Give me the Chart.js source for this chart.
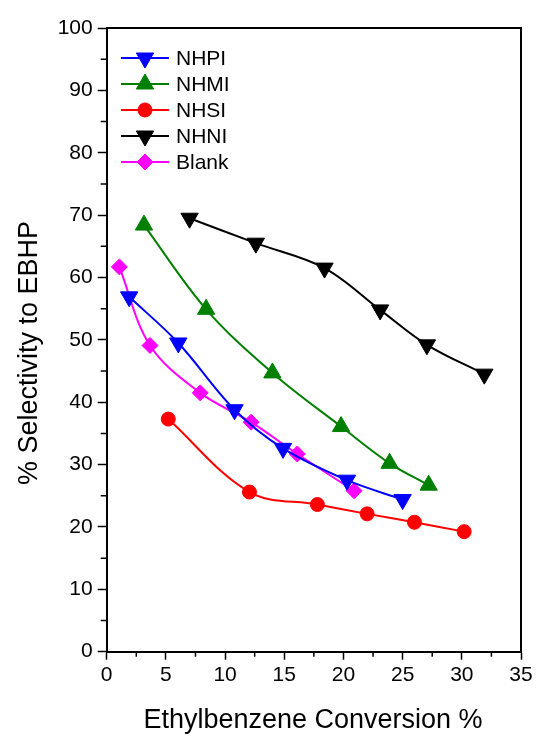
<!DOCTYPE html>
<html>
<head>
<meta charset="utf-8">
<script src="https://cdn.jsdelivr.net/npm/chart.js@4.4.1/dist/chart.umd.min.js"></script>
<style>
  html, body { margin: 0; padding: 0; background: #fff; }
  #wrap { width: 539px; height: 736px; }
</style>
</head>
<body>
<div id="wrap"><canvas id="chart"></canvas></div>
<script>
const seriesNames = ['NHPI', 'NHMI', 'NHSI', 'NHNI', 'Blank'];

const nhpiX = [1.9, 6.05, 10.8, 14.9, 20.3, 25.0];
const nhpiY = [56.9, 49.5, 38.8, 32.6, 27.5, 24.4];
const nhmiX = [3.15, 8.4, 14.0, 19.8, 23.9, 27.2];
const nhmiY = [68.4, 54.9, 44.7, 36.1, 30.2, 26.7];
const nhsiX = [5.2, 12.06, 17.8, 22.0, 26.0, 30.2];
const nhsiY = [37.3, 25.6, 23.6, 22.1, 20.75, 19.25];
const nhniX = [7.0, 12.6, 18.4, 23.1, 27.05, 31.9];
const nhniY = [69.5, 65.5, 61.5, 54.8, 49.2, 44.5];
const blankX = [1.07, 3.66, 7.9, 12.2, 16.1, 20.9];
const blankY = [61.7, 49.1, 41.5, 36.8, 31.7, 25.8];

const xTitle = 'Ethylbenzene Conversion %';
const yTitle = '% Selectivity to EBHP';

const FONT = '"Liberation Sans", Arial, sans-serif';

function pts(xs, ys) {
  return xs.map((x, i) => ({ x, y: ys[i] }));
}

function series(label, xs, ys, color, style, radius, rotation) {
  return {
    label,
    data: pts(xs, ys),
    borderColor: color,
    backgroundColor: color,
    pointBackgroundColor: color,
    pointBorderColor: color,
    borderWidth: 2,
    pointStyle: style,
    pointRadius: radius,
    pointHoverRadius: radius,
    pointRotation: rotation,
    pointBorderWidth: 1,
    tension: 0.35,
    fill: false,
  };
}

const frameAndExtras = {
  id: 'frameAndExtras',
  afterDraw(chart) {
    const { ctx, chartArea: a, scales } = chart;
    ctx.save();
    // top and right frame
    ctx.strokeStyle = '#000';
    ctx.lineWidth = 2;
    ctx.beginPath();
    ctx.moveTo(a.left, a.top);
    ctx.lineTo(a.right, a.top);
    ctx.lineTo(a.right, a.bottom);
    ctx.stroke();

    // minor ticks
    ctx.lineWidth = 1.5;
    ctx.beginPath();
    for (let v = 2.5; v < 35; v += 5) {
      const px = scales.x.getPixelForValue(v);
      ctx.moveTo(px, a.bottom);
      ctx.lineTo(px, a.bottom + 5);
    }
    for (let v = 5; v < 100; v += 10) {
      const py = scales.y.getPixelForValue(v);
      ctx.moveTo(a.left, py);
      ctx.lineTo(a.left - 6, py);
    }
    ctx.stroke();

    // axis titles
    ctx.fillStyle = '#000';
    ctx.font = '27px ' + FONT;
    ctx.textAlign = 'center';
    ctx.textBaseline = 'alphabetic';
    ctx.fillText(xTitle, 313, 727.5);
    ctx.save();
    ctx.translate(36.5, 353);
    ctx.rotate(-Math.PI / 2);
    ctx.fillText(yTitle, 0, 0);
    ctx.restore();

    // legend
    ctx.font = '21px ' + FONT;
    ctx.textAlign = 'left';
    ctx.textBaseline = 'middle';
    chart.data.datasets.forEach((ds, i) => {
      const y = 58 + i * 26;
      ctx.strokeStyle = ds.borderColor;
      ctx.lineWidth = 2;
      ctx.beginPath();
      ctx.moveTo(121, y);
      ctx.lineTo(169, y);
      ctx.stroke();
      ctx.fillStyle = ds.pointBackgroundColor;
      ctx.strokeStyle = ds.pointBorderColor;
      ctx.lineWidth = 1;
      Chart.helpers.drawPoint(ctx, {
        pointStyle: ds.pointStyle,
        radius: ds.pointRadius,
        rotation: ds.pointRotation,
        borderWidth: 1,
      }, 145, y);
      ctx.fillStyle = '#000';
      ctx.fillText(ds.label, 176, y + 1);
    });
    ctx.restore();
  },
};

new Chart(document.getElementById('chart'), {
  type: 'line',
  data: {
    datasets: [
      series(seriesNames[0], nhpiX, nhpiY, '#0000ff', 'triangle', 10, 180),
      series(seriesNames[1], nhmiX, nhmiY, '#008000', 'triangle', 10, 0),
      series(seriesNames[2], nhsiX, nhsiY, '#ff0000', 'circle', 7, 0),
      series(seriesNames[3], nhniX, nhniY, '#000000', 'triangle', 10, 180),
      series(seriesNames[4], blankX, blankY, '#ff00ff', 'rectRot', 8, 0),
    ],
  },
  options: {
    responsive: true,
    maintainAspectRatio: false,
    animation: false,
    layout: { padding: { top: 28, right: 18, left: 0, bottom: 0 } },
    plugins: { legend: { display: false }, tooltip: { enabled: false } },
    scales: {
      x: {
        type: 'linear',
        min: 0,
        max: 35,
        afterFit(scale) { scale.height = 84.3; },
        ticks: {
          stepSize: 5,
          color: '#000',
          padding: 3,
          font: { family: FONT, size: 21 },
        },
        grid: {
          display: true,
          drawOnChartArea: false,
          drawTicks: true,
          tickLength: 8,
          tickColor: '#000',
          tickWidth: 1.5,
        },
        border: { display: true, color: '#000', width: 2 },
      },
      y: {
        type: 'linear',
        min: 0,
        max: 100,
        afterFit(scale) { scale.width = 106.7; },
        ticks: {
          stepSize: 10,
          color: '#000',
          padding: 5,
          font: { family: FONT, size: 21 },
        },
        grid: {
          display: true,
          drawOnChartArea: false,
          drawTicks: true,
          tickLength: 9,
          tickColor: '#000',
          tickWidth: 1.5,
        },
        border: { display: true, color: '#000', width: 2 },
      },
    },
  },
  plugins: [frameAndExtras],
});
</script>
</body>
</html>
